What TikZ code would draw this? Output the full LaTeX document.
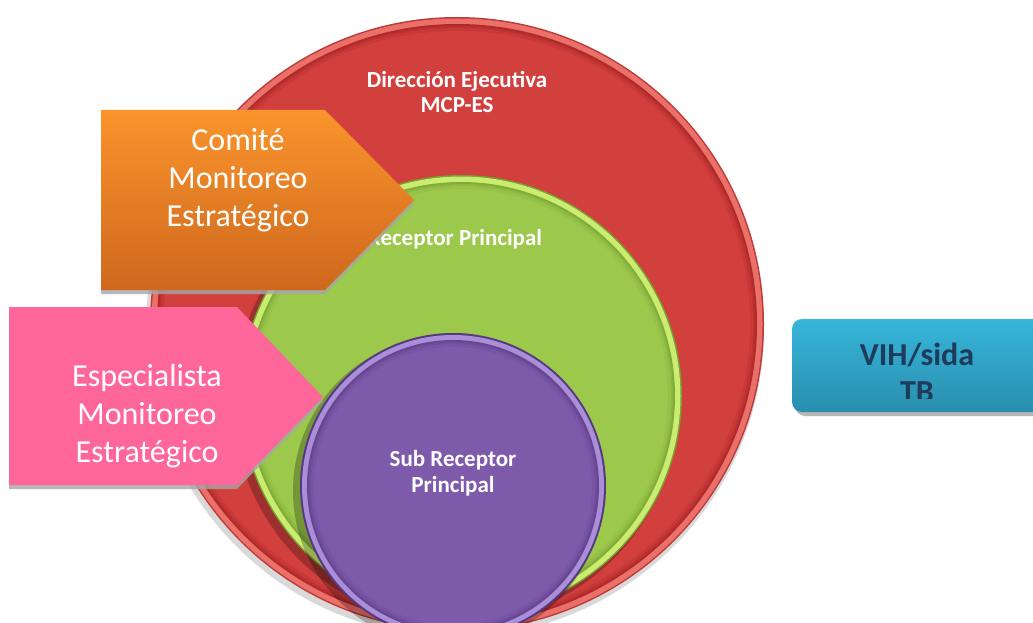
\documentclass[tikz,border=0pt]{standalone}
\usepackage{fontspec}
\setmainfont{Carlito}
\definecolor{reddark}{RGB}{168,36,36}
\definecolor{redlight}{RGB}{236,112,106}
\definecolor{redmain}{RGB}{210,64,62}
\definecolor{greendark}{RGB}{118,160,48}
\definecolor{greenlight}{RGB}{202,236,112}
\definecolor{greenmain}{RGB}{156,200,76}
\definecolor{purpledark}{RGB}{86,56,130}
\definecolor{purplelight}{RGB}{170,142,216}
\definecolor{purplemain}{RGB}{126,90,170}
\definecolor{orangetop}{RGB}{250,148,44}
\definecolor{orangebot}{RGB}{206,104,30}
\definecolor{pinkfill}{RGB}{255,102,153}
\definecolor{tealtop}{RGB}{54,182,218}
\definecolor{tealbot}{RGB}{42,142,174}
\definecolor{navytext}{RGB}{31,59,92}
\begin{document}
\begin{tikzpicture}[x=1pt,y=-1pt,
  disc/.style={circle,inner sep=0pt,outer sep=0pt},
  circlabel/.style={text=white,font=\bfseries\fontsize{23}{25.5}\selectfont,align=center,inner sep=0pt},
  arrowlabel/.style={text=white,font=\fontsize{32}{38}\selectfont,align=center,inner sep=0pt},
  shadowfill/.style={fill=black!35,opacity=0.8}]
\clip (0,0) rectangle (1033,623);
\fill[white] (0,0) rectangle (1033,623);
% red circle
\node[disc,fill=black,opacity=0.15,minimum size=618pt] (redshadow) at (455,328) {};
\node[disc,fill=reddark!70!redlight,minimum size=614pt] (red) at (457,324) {};
\node[disc,fill=redlight,minimum size=611pt] (redrim) at (red.center) {};
\node[disc,fill=reddark!80!redmain,minimum size=600pt] (redband1) at (red.center) {};
\node[disc,fill=reddark!50!redmain,minimum size=596pt] (redband2) at (red.center) {};
\node[disc,fill=reddark!25!redmain,minimum size=592pt] (redband3) at (red.center) {};
\node[disc,fill=redmain,minimum size=586pt] (redface) at (red.center) {};
\node[circlabel] (dirtext) at (457,92) {Dirección Ejecutiva\\MCP-ES};
% green circle
\node[disc,fill=black,opacity=0.25,minimum size=446pt] (greenshadow) at (456,401) {};
\node[disc,fill=greendark,minimum size=442pt] (green) at (461,396) {};
\node[disc,fill=greenlight,minimum size=439pt] (greenrim) at (green.center) {};
\node[disc,fill=greendark!70!greenmain,minimum size=428pt] (greenband1) at (green.center) {};
\node[disc,fill=greendark!40!greenmain,minimum size=424pt] (greenband2) at (green.center) {};
\node[disc,fill=greendark!15!greenmain,minimum size=420pt] (greenband3) at (green.center) {};
\node[disc,fill=greenmain,minimum size=414pt] (greenface) at (green.center) {};
\node[circlabel] (rptext) at (455,239) {Receptor Principal};
% purple circle
\node[disc,fill=black,opacity=0.25,minimum size=310pt] (purpleshadow) at (448,491) {};
\node[disc,fill=purpledark,minimum size=306pt] (purple) at (453,486) {};
\node[disc,fill=purplelight,minimum size=302pt] (purplerim) at (purple.center) {};
\node[disc,fill=purpledark!60!purplemain,minimum size=292pt] (purpleband1) at (purple.center) {};
\node[disc,fill=purpledark!35!purplemain,minimum size=288pt] (purpleband2) at (purple.center) {};
\node[disc,fill=purpledark!15!purplemain,minimum size=284pt] (purpleband3) at (purple.center) {};
\node[disc,fill=purplemain,minimum size=278pt] (purpleface) at (purple.center) {};
\node[circlabel] (srtext) at (453,473) {Sub Receptor\\Principal};
% orange arrow
\fill[shadowfill] (101,114) -- (325,114) -- (414,204) -- (325,294) -- (101,294) -- cycle;
\shade[top color=orangetop,bottom color=orangebot] (101,110) -- (325,110) -- (414,200) -- (325,290) -- (101,290) -- cycle;
\node[arrowlabel] (comite) at (238,180) {Comité\\Monitoreo\\Estratégico};
% pink arrow
\fill[shadowfill] (9,311) -- (237,311) -- (323,401) -- (237,489) -- (9,489) -- cycle;
\fill[pinkfill] (9,307) -- (237,307) -- (323,397) -- (237,485) -- (9,485) -- cycle;
\node[arrowlabel] (especialista) at (147,416) {Especialista\\Monitoreo\\Estratégico};
% teal box
\fill[shadowfill,rounded corners=10pt] (795,323) rectangle (1060,416);
\shade[top color=tealtop,bottom color=tealbot,rounded corners=10pt] (792,319) rectangle (1060,412);
\begin{scope}
\clip (792,319) rectangle (1060,398);
\node[text=navytext,font=\bfseries\fontsize{32}{37}\selectfont,anchor=base,inner sep=0pt] (vih) at (917,365) {VIH/sida};
\node[text=navytext,font=\bfseries\fontsize{32}{37}\selectfont,anchor=base,inner sep=0pt] (tb) at (917,402) {TB};
\end{scope}
\end{tikzpicture}
\end{document}
